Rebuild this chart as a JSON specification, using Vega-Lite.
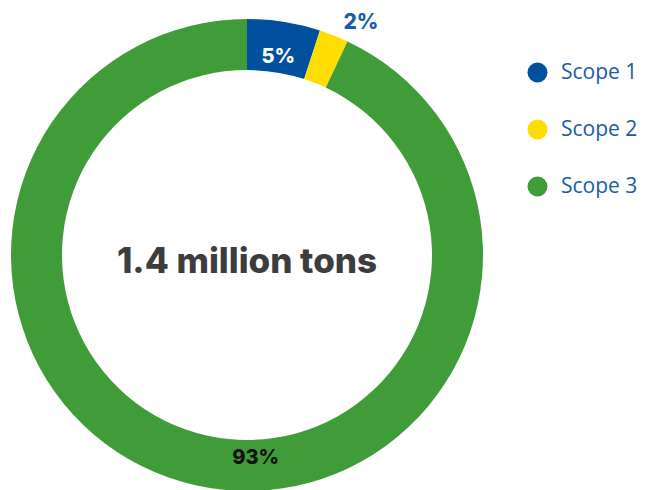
{
  "$schema": "https://vega.github.io/schema/vega-lite/v6.json",
  "width": 494,
  "height": 470,
  "autosize": "none",
  "padding": {"left": 0, "top": 20, "right": 160, "bottom": 0},
  "background": "white",
  "config": {"view": {"stroke": null}, "font": "Inter"},
  "data": {"values": [
    {"scope": "Scope 1", "value": 5, "label": "5%", "order": 1},
    {"scope": "Scope 2", "value": 2, "label": "2%", "order": 2},
    {"scope": "Scope 3", "value": 93, "label": "93%", "order": 3}
  ]},
  "layer": [
    {
      "mark": {"type": "arc", "radius": 236, "radius2": 185},
      "encoding": {
        "theta": {"field": "value", "type": "quantitative", "stack": true},
        "order": {"field": "order", "type": "quantitative"},
        "color": {
          "field": "scope", "type": "nominal",
          "scale": {"domain": ["Scope 1", "Scope 2", "Scope 3"], "range": ["#00509e", "#ffdd00", "#409c38"]},
          "legend": {
            "title": null, "orient": "none", "legendX": 527, "legendY": 42,
            "symbolType": "circle", "symbolSize": 400, "symbolStrokeWidth": 0,
            "labelFontSize": 21, "labelColor": "#1a5ca8", "labelFont": "Open Sans",
            "labelOffset": 13, "rowPadding": 35, "padding": 0
          }
        }
      }
    },
    {
      "mark": {"type": "text", "radius": 200, "fontSize": 20, "fontWeight": 800, "color": "white", "font": "Inter"},
      "encoding": {
        "theta": {"field": "value", "type": "quantitative", "stack": true},
        "order": {"field": "order", "type": "quantitative"},
        "text": {"condition": {"test": "datum.scope === 'Scope 1'", "field": "label"}, "value": ""}
      }
    },
    {
      "mark": {"type": "text", "radius": 258, "fontSize": 21, "fontWeight": 800, "color": "#1a5ca8", "font": "Inter", "dx": 19, "dy": 8},
      "encoding": {
        "theta": {"field": "value", "type": "quantitative", "stack": true},
        "order": {"field": "order", "type": "quantitative"},
        "text": {"condition": {"test": "datum.scope === 'Scope 2'", "field": "label"}, "value": ""}
      }
    },
    {
      "mark": {"type": "text", "radius": 203, "fontSize": 20, "fontWeight": 800, "color": "#111111", "font": "Inter", "dx": 53, "dy": 5},
      "encoding": {
        "theta": {"field": "value", "type": "quantitative", "stack": true},
        "order": {"field": "order", "type": "quantitative"},
        "text": {"condition": {"test": "datum.scope === 'Scope 3'", "field": "label"}, "value": ""}
      }
    },
    {
      "data": {"values": [{"total": "1.4 million tons"}]},
      "mark": {"type": "text", "fontSize": 35, "fontWeight": 800, "color": "#3d3d3d", "font": "Inter", "dy": 7},
      "encoding": {"text": {"field": "total"}}
    }
  ]
}
